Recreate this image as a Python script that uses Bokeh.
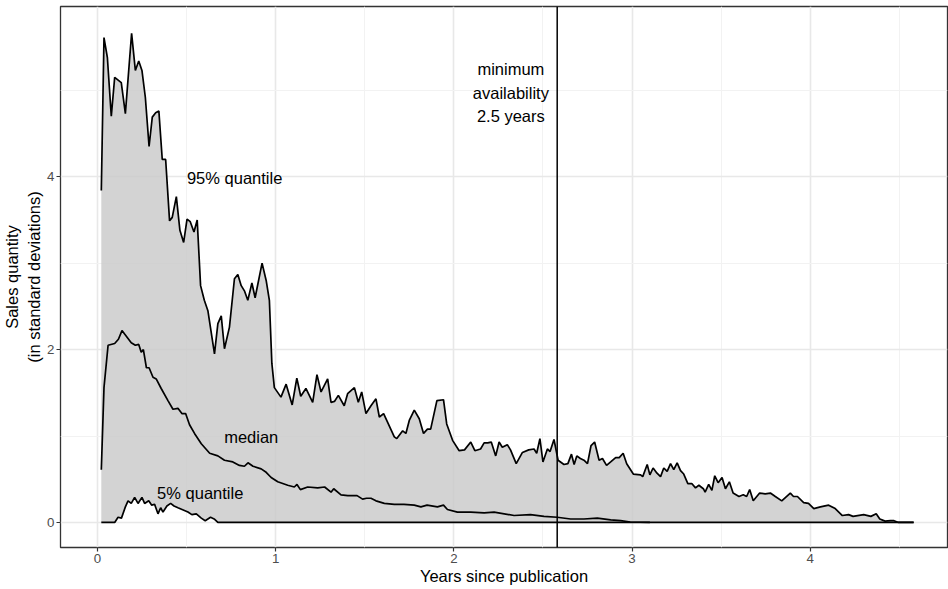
from bokeh.plotting import figure
from bokeh.models import FixedTicker, Label, Span
from bokeh.embed import file_html
from bokeh.resources import INLINE

# ---- data ----
q95_x = [0.022, 0.037, 0.056, 0.078, 0.097, 0.134, 0.157, 0.192, 0.213, 0.232, 0.250, 0.269, 0.290,
         0.308, 0.327, 0.345, 0.364, 0.383, 0.405, 0.420, 0.443, 0.463, 0.484, 0.503, 0.521, 0.542,
         0.560, 0.579, 0.600, 0.620, 0.657, 0.676, 0.695, 0.713, 0.741, 0.769, 0.788, 0.807, 0.825,
         0.844, 0.867, 0.885, 0.924, 0.947, 0.965, 0.979, 0.993, 1.030, 1.059, 1.093, 1.119, 1.141,
         1.170, 1.208, 1.232, 1.255, 1.292, 1.311, 1.330, 1.352, 1.385, 1.404, 1.442, 1.464, 1.483,
         1.507, 1.535, 1.563, 1.582, 1.606, 1.628, 1.666, 1.680, 1.713, 1.731, 1.750, 1.778, 1.806,
         1.830, 1.852, 1.870, 1.905, 1.942, 1.960, 1.993, 2.030, 2.060, 2.095, 2.118, 2.150, 2.170,
         2.190, 2.210, 2.235, 2.254, 2.272, 2.300, 2.318, 2.350, 2.385, 2.420, 2.450, 2.465, 2.483,
         2.500, 2.525, 2.540, 2.562, 2.585, 2.618, 2.640, 2.660, 2.675, 2.690, 2.710, 2.730, 2.750,
         2.770, 2.790, 2.815, 2.834, 2.857, 2.880, 2.908, 2.928, 2.950, 2.970, 3.007, 3.048, 3.060,
         3.085, 3.100, 3.118, 3.140, 3.160, 3.178, 3.197, 3.216, 3.234, 3.253, 3.272, 3.290, 3.313,
         3.335, 3.356, 3.375, 3.400, 3.410, 3.430, 3.448, 3.464, 3.483, 3.505, 3.524, 3.546, 3.567,
         3.600, 3.624, 3.643, 3.660, 3.680, 3.716, 3.747, 3.776, 3.804, 3.840, 3.888, 3.906, 3.928,
         3.963, 3.990, 4.020, 4.057, 4.103, 4.140, 4.180, 4.215, 4.240, 4.300, 4.340, 4.370, 4.390,
         4.420, 4.450, 4.470, 4.495, 4.580]
q95_y = [3.84, 5.61, 5.38, 4.70, 5.15, 5.09, 4.73, 5.66, 5.23, 5.34, 5.23, 4.92, 4.35,
         4.69, 4.74, 4.76, 4.20, 4.20, 3.49, 3.53, 3.77, 3.38, 3.24, 3.51, 3.48, 3.36,
         3.50, 2.74, 2.57, 2.45, 1.95, 2.30, 2.39, 2.01, 2.26, 2.82, 2.87, 2.74, 2.68,
         2.57, 2.77, 2.60, 3.00, 2.80, 2.57, 1.84, 1.56, 1.45, 1.60, 1.36, 1.67, 1.46,
         1.55, 1.39, 1.71, 1.51, 1.66, 1.39, 1.40, 1.47, 1.35, 1.49, 1.56, 1.39, 1.51,
         1.26, 1.35, 1.43, 1.22, 1.26, 1.16, 0.99, 0.97, 1.06, 1.03, 1.18, 1.30, 1.20,
         1.03, 1.08, 1.08, 1.41, 1.42, 1.14, 0.95, 0.83, 0.84, 0.93, 0.83, 0.85, 0.92,
         0.92, 0.93, 0.77, 0.93, 0.87, 0.90, 0.84, 0.68, 0.81, 0.84, 0.85, 0.80, 0.97,
         0.70, 0.85, 0.82, 0.96, 0.72, 0.67, 0.68, 0.79, 0.67, 0.77, 0.74, 0.72, 0.68,
         0.89, 0.93, 0.72, 0.74, 0.66, 0.70, 0.75, 0.75, 0.80, 0.68, 0.56, 0.55, 0.53,
         0.67, 0.55, 0.63, 0.57, 0.53, 0.63, 0.59, 0.68, 0.61, 0.69, 0.60, 0.56, 0.45,
         0.45, 0.40, 0.43, 0.39, 0.35, 0.44, 0.37, 0.54, 0.46, 0.52, 0.39, 0.47, 0.34,
         0.30, 0.32, 0.30, 0.38, 0.25, 0.34, 0.33, 0.34, 0.30, 0.25, 0.34, 0.30, 0.30,
         0.23, 0.22, 0.16, 0.18, 0.20, 0.16, 0.08, 0.09, 0.07, 0.09, 0.07, 0.10, 0.04,
         0.015, 0.02, 0.02, 0.0, 0.0]

med_x = [0.022, 0.037, 0.060, 0.097, 0.118, 0.138, 0.157, 0.190, 0.213, 0.232, 0.246, 0.258, 0.275,
         0.290, 0.312, 0.330, 0.358, 0.396, 0.424, 0.452, 0.474, 0.495, 0.517, 0.545, 0.583, 0.630,
         0.676, 0.713, 0.760, 0.797, 0.825, 0.845, 0.873, 0.919, 0.947, 0.975, 1.012, 1.068, 1.105,
         1.120, 1.139, 1.180, 1.236, 1.275, 1.311, 1.326, 1.367, 1.405, 1.457, 1.488, 1.510, 1.535,
         1.563, 1.610, 1.666, 1.720, 1.778, 1.815, 1.850, 1.908, 1.942, 1.964, 2.020, 2.095, 2.170,
         2.226, 2.338, 2.430, 2.506, 2.580, 2.655, 2.730, 2.805, 2.880, 2.936, 2.990, 3.100]
med_y = [0.61, 1.56, 2.05, 2.07, 2.12, 2.22, 2.17, 2.08, 2.05, 2.06, 1.97, 2.00, 1.79,
         1.79, 1.68, 1.66, 1.55, 1.41, 1.31, 1.32, 1.26, 1.26, 1.13, 1.03, 0.91, 0.80,
         0.77, 0.72, 0.70, 0.66, 0.65, 0.69, 0.65, 0.62, 0.58, 0.52, 0.47, 0.43, 0.41,
         0.44, 0.38, 0.41, 0.40, 0.41, 0.35, 0.39, 0.32, 0.31, 0.31, 0.27, 0.28, 0.28,
         0.25, 0.22, 0.21, 0.21, 0.20, 0.18, 0.20, 0.18, 0.20, 0.15, 0.12, 0.12, 0.11,
         0.12, 0.08, 0.09, 0.07, 0.06, 0.04, 0.04, 0.05, 0.03, 0.02, 0.005, 0.0]

q05_x = [0.022, 0.097, 0.116, 0.135, 0.157, 0.172, 0.190, 0.209, 0.228, 0.250, 0.265, 0.288, 0.305,
         0.321, 0.340, 0.355, 0.368, 0.390, 0.411, 0.430, 0.452, 0.475, 0.508, 0.530, 0.555, 0.583,
         0.605, 0.635, 0.655, 0.676, 4.580]
q05_y = [0.0, 0.0, 0.06, 0.05, 0.18, 0.25, 0.22, 0.29, 0.22, 0.29, 0.22, 0.25, 0.20,
         0.21, 0.10, 0.17, 0.12, 0.19, 0.22, 0.19, 0.17, 0.15, 0.12, 0.09, 0.10, 0.05,
         0.02, 0.06, 0.04, 0.0, 0.0]

min_availability = 2.58
x_ticks = [0, 1, 2, 3, 4]
x_minor = [0.5, 1.5, 2.5, 3.5, 4.5]
y_ticks = [0, 2, 4]
y_minor = [1, 3, 5]

annotations = [
    ("95% quantile", 0.77, 3.98),
    ("median", 0.863, 0.99),
    ("5% quantile", 0.577, 0.34),
    ("minimum", 2.32, 5.25),
    ("availability", 2.32, 4.97),
    ("2.5 years", 2.32, 4.70),
]

FONT = "Liberation Sans"

p = figure(width=948, height=589, x_range=(-0.207, 4.77), y_range=(-0.29, 5.97),
           output_backend="svg", toolbar_location=None,
           min_border_left=59, min_border_right=1, min_border_top=6, min_border_bottom=42)

p.background_fill_color = "white"
p.border_fill_color = "white"
p.outline_line_color = "#333333"
p.outline_line_width = 1.3

# ribbon between 5% and 95% quantile
ribbon_x = q95_x + q05_x[::-1]
ribbon_y = q95_y + q05_y[::-1]
p.patch(ribbon_x, ribbon_y, fill_color="#c8c8c8", fill_alpha=0.8, line_color=None)

for xs, ys in ((q95_x, q95_y), (med_x, med_y), (q05_x, q05_y)):
    p.line(xs, ys, line_color="black", line_width=1.7)

p.add_layout(Span(location=min_availability, dimension="height", line_color="black", line_width=1.5))

for txt, tx, ty in annotations:
    p.add_layout(Label(x=tx, y=ty, text=txt, text_align="center", text_baseline="middle",
                       text_font=FONT, text_font_size="16.5px", text_color="black"))

# axes
p.xaxis.ticker = FixedTicker(ticks=x_ticks, minor_ticks=x_minor)
p.yaxis.ticker = FixedTicker(ticks=y_ticks, minor_ticks=y_minor)
for ax in (p.xaxis, p.yaxis):
    ax.axis_line_color = None
    ax.major_tick_line_color = "#333333"
    ax.major_tick_line_width = 1.2
    ax.major_tick_out = 4
    ax.major_tick_in = 0
    ax.minor_tick_line_color = None
    ax.major_label_text_font = FONT
    ax.major_label_text_font_size = "13.3px"
    ax.major_label_text_color = "#4d4d4d"
    ax.axis_label_text_font = FONT
    ax.axis_label_text_font_size = "16.5px"
    ax.axis_label_text_font_style = "normal"
    ax.axis_label_text_color = "black"
    ax.major_label_standoff = 2
    ax.axis_label_standoff = 1

p.xaxis.axis_label = "Years since publication"
p.yaxis.axis_label = "Sales quantity\n(in standard deviations)"

for g in (p.xgrid, p.ygrid):
    g.grid_line_color = "#e8e8e8"
    g.grid_line_width = 1.6
    g.minor_grid_line_color = "#f2f2f2"
    g.minor_grid_line_width = 1.0

open("out.html", "w").write(file_html(p, INLINE))
